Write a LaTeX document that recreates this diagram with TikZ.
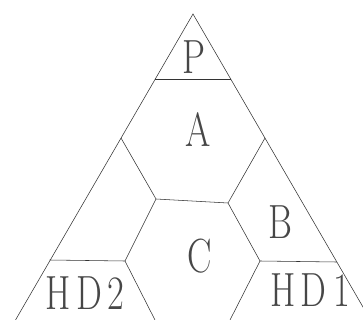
\documentclass[tikz,border=0pt]{standalone}
\newcommand\lbltxt[1]{\scalebox{0.76}[1]{#1}}
\tikzset{
  edge/.style={draw=black!80, line width=0.55pt},
  lbl/.style={inner sep=0pt, outer sep=0pt, text=black!72, font=\fontsize{48}{48}\selectfont}
}
\begin{document}
\begin{tikzpicture}[x=1pt, y=-1pt]
  \useasboundingbox (0,0) rectangle (363,320);
  \clip (0,0) rectangle (363,320);
  % corners and interior points
  \coordinate (T) at (193,14);
  \coordinate (L) at (15.5,320);
  \coordinate (R) at (370.5,320);
  \coordinate (PL) at (155.3,79);
  \coordinate (PR) at (230.7,79);
  \coordinate (AL) at (121,138);
  \coordinate (AR) at (265,138);
  \coordinate (CL) at (156,199);
  \coordinate (CR) at (228,203);
  \coordinate (HL) at (49.7,260);
  \coordinate (DL) at (125,261);
  \coordinate (DR) at (260,261);
  \coordinate (HR) at (336.8,262);
  \coordinate (BL) at (155,320);
  \coordinate (BR) at (230,320);
  % outline
  \draw[edge] (L) -- (T) -- (R);
  % interior lines
  \draw[edge] (PL) -- (PR);
  \draw[edge] (AL) -- (CL) -- (CR) -- (AR);
  \draw[edge] (HL) -- (DL) -- (CL);
  \draw[edge] (DL) -- (BL);
  \draw[edge] (HR) -- (DR) -- (CR);
  \draw[edge] (DR) -- (BR);
  % labels
  \node[lbl] (p) at (193.5,57) {\lbltxt{P}};
  \node[lbl] (a) at (198.5,130) {\lbltxt{A}};
  \node[lbl] (b) at (280,222) {\lbltxt{B}};
  \node[lbl] (c) at (199.5,256) {\lbltxt{C}};
  \node[lbl] (hd2) at (85,293.5) {\lbltxt{H\kern7pt D\kern7pt 2}};
  \node[lbl] (hd1) at (310,290.5) {\lbltxt{H\kern7pt D\kern9pt 1}};
\end{tikzpicture}
\end{document}
